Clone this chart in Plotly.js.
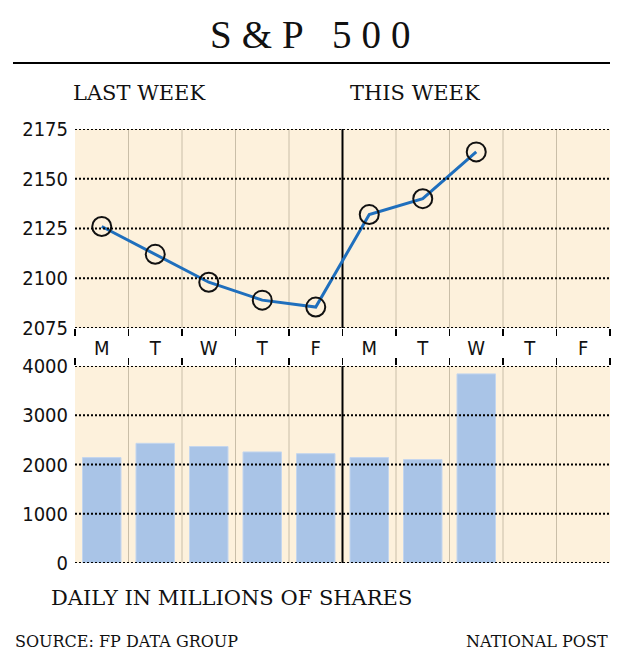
<!DOCTYPE html>
<html>
<head>
<meta charset="utf-8">
<script src="https://cdn.plot.ly/plotly-3.0.1.min.js"></script>
<style>
html,body{margin:0;padding:0;background:#fff;}
#chart{width:620px;height:670px;}
</style>
</head>
<body>
<div id="chart"></div>
<script>
// ---- data ----
var days = ['M','T','W','T','F','M','T','W','T','F'];
var dayIndex = [0,1,2,3,4,5,6,7,8,9];
var spClose = [2126, 2112, 2098, 2089, 2085.5, 2132, 2140, 2163.5, null, null];
var volume = [2140, 2430, 2365, 2255, 2220, 2140, 2100, 3840, null, null];
var spTicks = [2075, 2100, 2125, 2150, 2175];
var volTicks = [0, 1000, 2000, 3000, 4000];
var dividers = [-0.5,0.5,1.5,2.5,3.5,4.5,5.5,6.5,7.5,8.5,9.5];
var innerDividers = [0.5,1.5,2.5,3.5,5.5,6.5,7.5,8.5];
var weekSplit = 4.5;

var BG = '#fdf1dc';
var GRIDV = '#c9bea8';
var LINE = '#1f6fbd';
var BAR = '#a9c4e7';
var tickFont = {family: '"DejaVu Sans Condensed", "Liberation Sans Narrow", "DejaVu Sans", sans-serif', size: 20, color: '#111'};
var serif = '"DejaVu Serif", "Liberation Serif", serif';
var titleSerif = '"Liberation Serif", "DejaVu Serif", serif';
var DOTS = '2px,2px';

var traces = [
  {
    type: 'scatter', mode: 'lines+markers',
    x: dayIndex, y: spClose, xaxis: 'x', yaxis: 'y',
    line: {color: LINE, width: 3},
    marker: {symbol: 'circle-open', size: 19, color: '#111', line: {width: 2}},
    cliponaxis: false, hoverinfo: 'skip'
  },
  {
    type: 'bar', x: dayIndex, y: volume, xaxis: 'x2', yaxis: 'y2',
    marker: {color: BAR, line: {color: '#c4d6ee', width: 1}},
    hoverinfo: 'skip'
  }
];

var shapes = [];
innerDividers.forEach(function(d){
  shapes.push({type:'line', xref:'x', yref:'y domain', x0:d, x1:d, y0:0, y1:1, line:{color:GRIDV, width:1}, layer:'below'});
  shapes.push({type:'line', xref:'x2', yref:'y2 domain', x0:d, x1:d, y0:0, y1:1, line:{color:GRIDV, width:1}, layer:'below'});
});
shapes.push({type:'line', xref:'x', yref:'y domain', x0:weekSplit, x1:weekSplit, y0:0, y1:1, line:{color:'#000', width:2}, layer:'below'});
shapes.push({type:'line', xref:'x2', yref:'y2 domain', x0:weekSplit, x1:weekSplit, y0:0, y1:1, line:{color:'#000', width:2}, layer:'below'});
// dotted horizontal gridlines drawn above the marks
spTicks.forEach(function(v){
  shapes.push({type:'line', xref:'x domain', yref:'y', x0:0, x1:1, y0:v, y1:v, line:{color:'#000', width:2, dash:DOTS}, layer:'above'});
});
volTicks.forEach(function(v){
  shapes.push({type:'line', xref:'x2 domain', yref:'y2', x0:0, x1:1, y0:v, y1:v, line:{color:'#000', width:2, dash:DOTS}, layer:'above'});
});
// header rule
shapes.push({type:'line', xref:'paper', yref:'paper', x0:-0.1159, x1:1, y0:1.152, y1:1.152, line:{color:'#000', width:2}});

var annotations = [
  {text:'S&amp;P 500', xref:'paper', yref:'paper', x:0.4486, y:1.2166, xanchor:'center', yanchor:'middle', showarrow:false, font:{family:titleSerif, size:39, color:'#111'}},
  {text:'LAST WEEK', xref:'paper', yref:'paper', x:-0.0075, y:1.083, xanchor:'left', yanchor:'middle', showarrow:false, font:{family:serif, size:21, color:'#111'}},
  {text:'THIS WEEK', xref:'paper', yref:'paper', x:0.5103, y:1.083, xanchor:'left', yanchor:'middle', showarrow:false, font:{family:serif, size:21, color:'#111'}},
  {text:'DAILY IN MILLIONS OF SHARES', xref:'paper', yref:'paper', x:-0.0486, y:-0.0806, xanchor:'left', yanchor:'middle', showarrow:false, font:{family:serif, size:21, color:'#111'}},
  {text:'SOURCE: FP DATA GROUP', xref:'paper', yref:'paper', x:-0.1159, y:-0.182, xanchor:'left', yanchor:'middle', showarrow:false, font:{family:serif, size:16, color:'#111'}},
  {text:'NATIONAL POST', xref:'paper', yref:'paper', x:1, y:-0.182, xanchor:'right', yanchor:'middle', showarrow:false, font:{family:serif, size:16, color:'#111'}}
];

var minorTicks = {tickmode:'array', tickvals: dividers, ticks:'outside', ticklen:7, tickwidth:1.5, tickcolor:'#000', showgrid:false};

var layout = {
  width: 620, height: 670,
  margin: {l: 75, r: 10, t: 129, b: 107, pad: 0},
  paper_bgcolor: '#ffffff',
  plot_bgcolor: BG,
  showlegend: false,
  bargap: 0.28,
  xaxis: {
    domain:[0,1], anchor:'y', range:[-0.5, 9.5], tickmode:'array', tickvals: dayIndex, ticktext: days,
    ticks:'', showgrid:false, zeroline:false, showline:false, tickfont: tickFont, ticklabelstandoff: 6,
    minor: minorTicks, fixedrange:true
  },
  xaxis2: {
    domain:[0,1], anchor:'y2', side:'top', range:[-0.5, 9.5], tickmode:'array', tickvals: dayIndex,
    showticklabels:false, ticks:'', showgrid:false, zeroline:false, showline:false,
    minor: minorTicks, fixedrange:true
  },
  yaxis: {
    domain:[0.5415, 1], anchor:'x', range:[2075, 2175], tickmode:'array', tickvals: spTicks,
    showgrid:false, zeroline:false, showline:false,
    ticks:'', tickfont: tickFont, ticklabelstandoff: 6, fixedrange:true
  },
  yaxis2: {
    domain:[0, 0.4539], anchor:'x2', range:[0, 4000], tickmode:'array', tickvals: volTicks,
    showgrid:false, zeroline:false, showline:false,
    ticks:'', tickfont: tickFont, ticklabelstandoff: 6, fixedrange:true
  },
  shapes: shapes,
  annotations: annotations
};

Plotly.newPlot('chart', traces, layout, {staticPlot: true}).then(function(){
  var anns = document.querySelectorAll('.annotation-text');
  if (anns.length) {
    anns[0].style.letterSpacing = '10px';
  }
});
</script>
</body>
</html>
